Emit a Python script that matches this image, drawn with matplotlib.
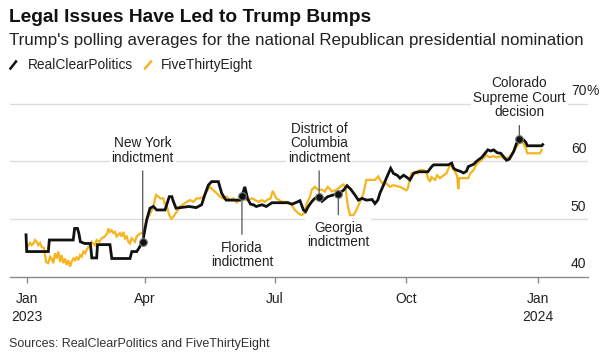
import matplotlib
matplotlib.use("Agg")
import matplotlib.pyplot as plt
from matplotlib.lines import Line2D
import pandas as pd
import numpy as np

plt.rcParams['font.family'] = ['Liberation Sans', 'DejaVu Sans']

START = pd.Timestamp("2023-01-01")

# RealClearPolitics: (days since 2023-01-01, value)
rcp_days = [7, 7.5, 22.6, 23.3, 40, 41, 43, 44, 45, 48, 52, 53, 56.4, 57, 65.7, 67, 79.7, 81, 84.4, 86,
            88.6, 91.4, 93.7, 96, 98.4, 104.2, 107.2, 109, 110, 111.9, 118, 121, 126, 129.8, 132, 134.5,
            136.8, 141.5, 143.8, 146, 147, 156.6, 158, 160, 162, 164, 166, 168, 172, 175, 179, 190, 193,
            196, 198.6, 201, 202.5, 204.4, 207, 209, 212, 214, 218, 222, 225.4, 229, 231.5, 234, 237,
            239.4, 242, 245, 249, 251, 253, 254.5, 257, 259, 262, 264, 266.6, 268.5, 271, 273, 275.5,
            278, 281, 288, 290.7, 292, 302.3, 304.7, 306, 308, 310.5, 313, 315, 316.3, 320, 322, 323,
            325.7, 328, 330, 332, 334, 336.5, 339, 341, 343, 345, 348, 350, 352, 355, 356.5, 357.6,
            367.6, 368.3]
rcp_vals = [47.3, 44.4, 44.4, 46.4, 46.4, 48.4, 48.4, 47.5, 46.1, 45.8, 45.8, 43.3, 43.3, 45.6, 45.6,
            43.2, 43.2, 44.4, 44.4, 45.0, 46.1, 49.9, 51.9, 52.2, 51.6, 51.6, 53.9, 53.9, 53.1, 51.9,
            52.1, 52.2, 52.0, 52.5, 54.2, 55.9, 56.5, 56.5, 54.5, 53.6, 53.3, 53.3, 54.0, 55.6, 53.5,
            52.6, 52.5, 52.2, 52.5, 52.2, 52.85, 52.85, 52.6, 52.9, 53.2, 51.6, 51.3, 52.2, 53.1, 53.6,
            53.9, 53.1, 53.9, 54.2, 54.4, 55.0, 55.8, 55.2, 54.2, 53.3, 53.6, 53.3, 53.4, 52.7, 53.3,
            54.5, 55.9, 57.1, 58.8, 57.9, 57.6, 57.1, 57.6, 57.3, 56.8, 57.9, 58.2, 58.2, 59.1, 59.4,
            59.4, 59.7, 58.8, 58.5, 58.3, 58.0, 58.3, 59.1, 59.5, 60.0, 60.2, 60.7, 61.4, 62.0, 61.8,
            62.0, 61.5, 61.4, 60.8, 60.2, 60.4, 61.7, 63.1, 63.9, 63.7, 63.3, 62.7, 62.7, 62.9]

# FiveThirtyEight
fte_days = [7.0, 7.9, 9.8, 11.0, 12.1, 13.3, 14.4, 15.6, 16.8, 17.9, 19.6, 21.0, 22.6, 23.8, 24.9, 26.1,
            27.3, 28.4, 29.6, 30.8, 31.9, 33.1, 34.3, 35.4, 36.6, 37.8, 38.9, 40.1, 41.3, 42.4, 43.6,
            44.8, 45.9, 47.1, 48.3, 49.4, 50.6, 51.8, 52.9, 54.1, 55.2, 56.4, 58.3, 59.9, 62.2, 63.9,
            64.6, 65.7, 66.9, 68.1, 69.2, 70.4, 71.6, 72.7, 73.9, 75.1, 76.2, 77.4, 78.5, 79.7, 80.9,
            82.0, 83.2, 84.4, 85.6, 89, 91.4, 93.7, 96, 97.9, 99, 101, 103, 104, 105.5, 107.2, 108.5,
            110, 112.4, 114.7, 117, 119.4, 121.7, 124, 126.3, 128.7, 131, 133.3, 135.7, 138, 140.3,
            142.6, 145, 147.3, 149.6, 152, 154.3, 156.6, 159, 161, 165, 169.6, 172, 174, 176, 178,
            179.5, 182, 186, 190, 192, 195, 197.5, 199.8, 201.5, 203.3, 205.6, 206.8, 209, 211, 214,
            216, 218, 221, 224.3, 226.6, 229, 230.5, 231.3, 232.4, 233.6, 236, 237.5, 239.7, 241.7,
            243, 245, 248, 251, 253.4, 255, 257, 259, 261.5, 264, 266.5, 268.5, 270.8, 273, 274,
            275.5, 276.5, 279, 281, 282.5, 285, 287, 288, 289.5, 290.5, 293, 294.5, 296.5, 299, 301,
            303.5, 305.5, 307, 308.5, 309.3, 310, 316.3, 317.5, 320, 322, 324.5, 327, 329, 331, 334,
            336, 339, 341, 343, 345.5, 348, 350, 352.4, 354.7, 356.6, 357.5, 366.4, 367.6]
fte_vals = [45.2, 45.2, 45.9, 45.5, 45.8, 46.4, 46.1, 45.5, 45.9, 45.2, 45.0, 42.6, 42.4, 43.5, 43.2,
            42.4, 44.1, 43.2, 44.4, 42.6, 43.8, 42.4, 43.2, 42.1, 42.9, 41.8, 42.6, 43.2, 42.9, 43.5,
            42.9, 43.8, 43.5, 44.4, 44.1, 44.7, 45.2, 45.5, 46.1, 45.8, 45.5, 46.4, 46.1, 46.7, 47.0,
            47.6, 48.4, 47.8, 48.1, 47.6, 47.8, 47.0, 47.3, 47.6, 47.0, 47.8, 46.7, 47.0, 46.1, 45.8,
            46.7, 46.4, 46.1, 47.0, 47.3, 47.8, 49.9, 50.9, 52.2, 54.2, 54.0, 53.6, 53.6, 52.7, 52.2,
            50.7, 50.1, 50.4, 51.3, 52.2, 52.6, 53.0, 53.3, 53.0, 53.6, 53.6, 53.9, 54.8, 55.6, 55.0,
            54.5, 53.9, 53.6, 53.9, 53.3, 53.6, 52.9, 53.3, 53.9, 53.3, 53.6, 53.0, 53.3, 53.0, 53.4,
            53.6, 54.9, 53.6, 53.0, 53.0, 52.7, 51.6, 51.0, 50.7, 51.0, 52.7, 53.9, 55.1, 55.6,
            55.1, 55.1, 54.8, 55.6, 54.8, 55.1, 55.6, 56.0, 55.5, 53.6, 51.9, 50.7, 50.7, 51.3, 52.5,
            53.6, 54.5, 56.8, 56.8, 56.8, 57.4, 56.6, 56.0, 56.2, 55.6, 55.9, 55.7, 55.6, 55.3, 55.0,
            55.3, 57.1, 57.9, 58.2, 57.9, 58.5, 58.5, 58.2, 57.1, 56.5, 57.3, 56.8, 57.6, 57.1, 57.6,
            57.9, 59.4, 58.8, 58.2, 57.5, 55.2, 57.1, 57.1, 57.9, 58.5, 59.5, 60.0, 60.6, 61.1, 60.7,
            60.9, 60.7, 60.9, 60.5, 60.5, 60.9, 61.7, 62.5, 63.4, 63.1, 62.2, 61.4, 61.4, 62.0]

# Events
event_days = [88.6, 158, 212, 225.4, 352]
event_labels = ["New York\nindictment", "Florida\nindictment", "District of\nColumbia\nindictment",
                "Georgia\nindictment", "Colorado\nSupreme Court\ndecision"]
event_vals = [46.1, 54.0, 53.9, 54.4, 63.9]
event_text_vals = [59.95, 46.3, 59.95, 49.7, 67.8]
event_above = [True, False, True, False, True]

y_ticks = [40, 50, 60, 70]
x_tick_labels = ["Jan\n2023", "Apr", "Jul", "Oct", "Jan\n2024"]
x_tick_days = [7.5, 90, 181, 273, 365]

BLACK = "#111111"
YELLOW = "#F6B51E"
GRID = "#dcdcdc"
TXT = "#222222"

W, H = 600, 355
fig = plt.figure(figsize=(W / 100, H / 100), dpi=100)

def fx(x):
    return x / W

def fy(y):
    return 1 - y / H

ax_left, ax_right = 10, 588
ax_top, ax_bot = 97.8, 277
ax = fig.add_axes([fx(ax_left), fy(ax_bot), (ax_right - ax_left) / W, (ax_bot - ax_top) / H])

def to_date(d):
    return START + pd.to_timedelta(np.asarray(d, dtype=float), unit="D")

rcp_x = to_date(rcp_days)
fte_x = to_date(fte_days)

ax.plot(fte_x, fte_vals, color=YELLOW, lw=1.6, zorder=3, solid_joinstyle="miter")
ax.plot(rcp_x, rcp_vals, color=BLACK, lw=2.0, zorder=4, solid_joinstyle="miter")

ax.set_xlim(to_date([-4.2])[0], to_date([400.0])[0])
ax.set_ylim(40, 71)

for v in y_ticks[1:]:
    ax.axhline(v, color=GRID, lw=1.0, zorder=1)

for s in ["top", "right", "left"]:
    ax.spines[s].set_visible(False)
ax.spines["bottom"].set_color("#8a8a8a")
ax.spines["bottom"].set_linewidth(1.0)
ax.set_yticks([])
ax.set_xticks(to_date(x_tick_days))
ax.set_xticklabels(x_tick_labels, fontsize=10, color=TXT, linespacing=1.3)
ax.tick_params(axis="x", length=4, width=1, color="#8a8a8a", pad=7)

# y labels above gridlines, right side
for v in y_ticks:
    ax.annotate(str(v), xy=(0.997, v), xycoords=ax.get_yaxis_transform(), xytext=(0, 4),
                textcoords="offset points", ha="right", va="bottom", fontsize=10, color=TXT,
                annotation_clip=False)
    if v == 70:
        ax.annotate("%", xy=(0.997, v), xycoords=ax.get_yaxis_transform(), xytext=(0.3, 4),
                    textcoords="offset points", ha="left", va="bottom", fontsize=10, color=TXT,
                    annotation_clip=False)

# events
for d, lbl, v, tv, above in zip(event_days, event_labels, event_vals, event_text_vals, event_above):
    xd = to_date([d])[0]
    ax.plot([xd], [v], marker="o", ms=5.5, mfc=BLACK, mec="#777777", mew=0.8, zorder=6)
    ax.annotate(lbl, xy=(xd, v), xytext=(xd, tv),
                textcoords="data", ha="center", va="baseline" if above else "top",
                fontsize=9.8, color=TXT, linespacing=1.05,
                bbox=dict(boxstyle="square,pad=0.15", fc="white", ec="none"),
                arrowprops=dict(arrowstyle="-", color="#555555", lw=0.9,
                                shrinkA=3, shrinkB=0),
                zorder=5, annotation_clip=False)

# titles
fig.text(fx(9), fy(21.7), "Legal Issues Have Led to Trump Bumps", fontsize=13.8,
         fontweight="bold", color="#111111", va="baseline", ha="left")
fig.text(fx(9), fy(45.5), "Trump's polling averages for the national Republican presidential nomination",
         fontsize=12.2, color=TXT, va="baseline", ha="left")

# legend
fig.add_artist(Line2D([fx(10.5), fx(16)], [fy(68.5), fy(61.5)], color=BLACK, lw=1.8))
fig.text(fx(28), fy(69.3), "RealClearPolitics", fontsize=9.9, color=TXT, va="baseline", ha="left")
fig.add_artist(Line2D([fx(145), fx(151)], [fy(68.5), fy(61.5)], color=YELLOW, lw=1.8))
fig.text(fx(160.5), fy(69.3), "FiveThirtyEight", fontsize=9.9, color=TXT, va="baseline", ha="left")

fig.text(fx(9), fy(347), "Sources: RealClearPolitics and FiveThirtyEight", fontsize=9,
         color="#333333", va="baseline", ha="left")

fig.savefig("out.png", dpi=100)
